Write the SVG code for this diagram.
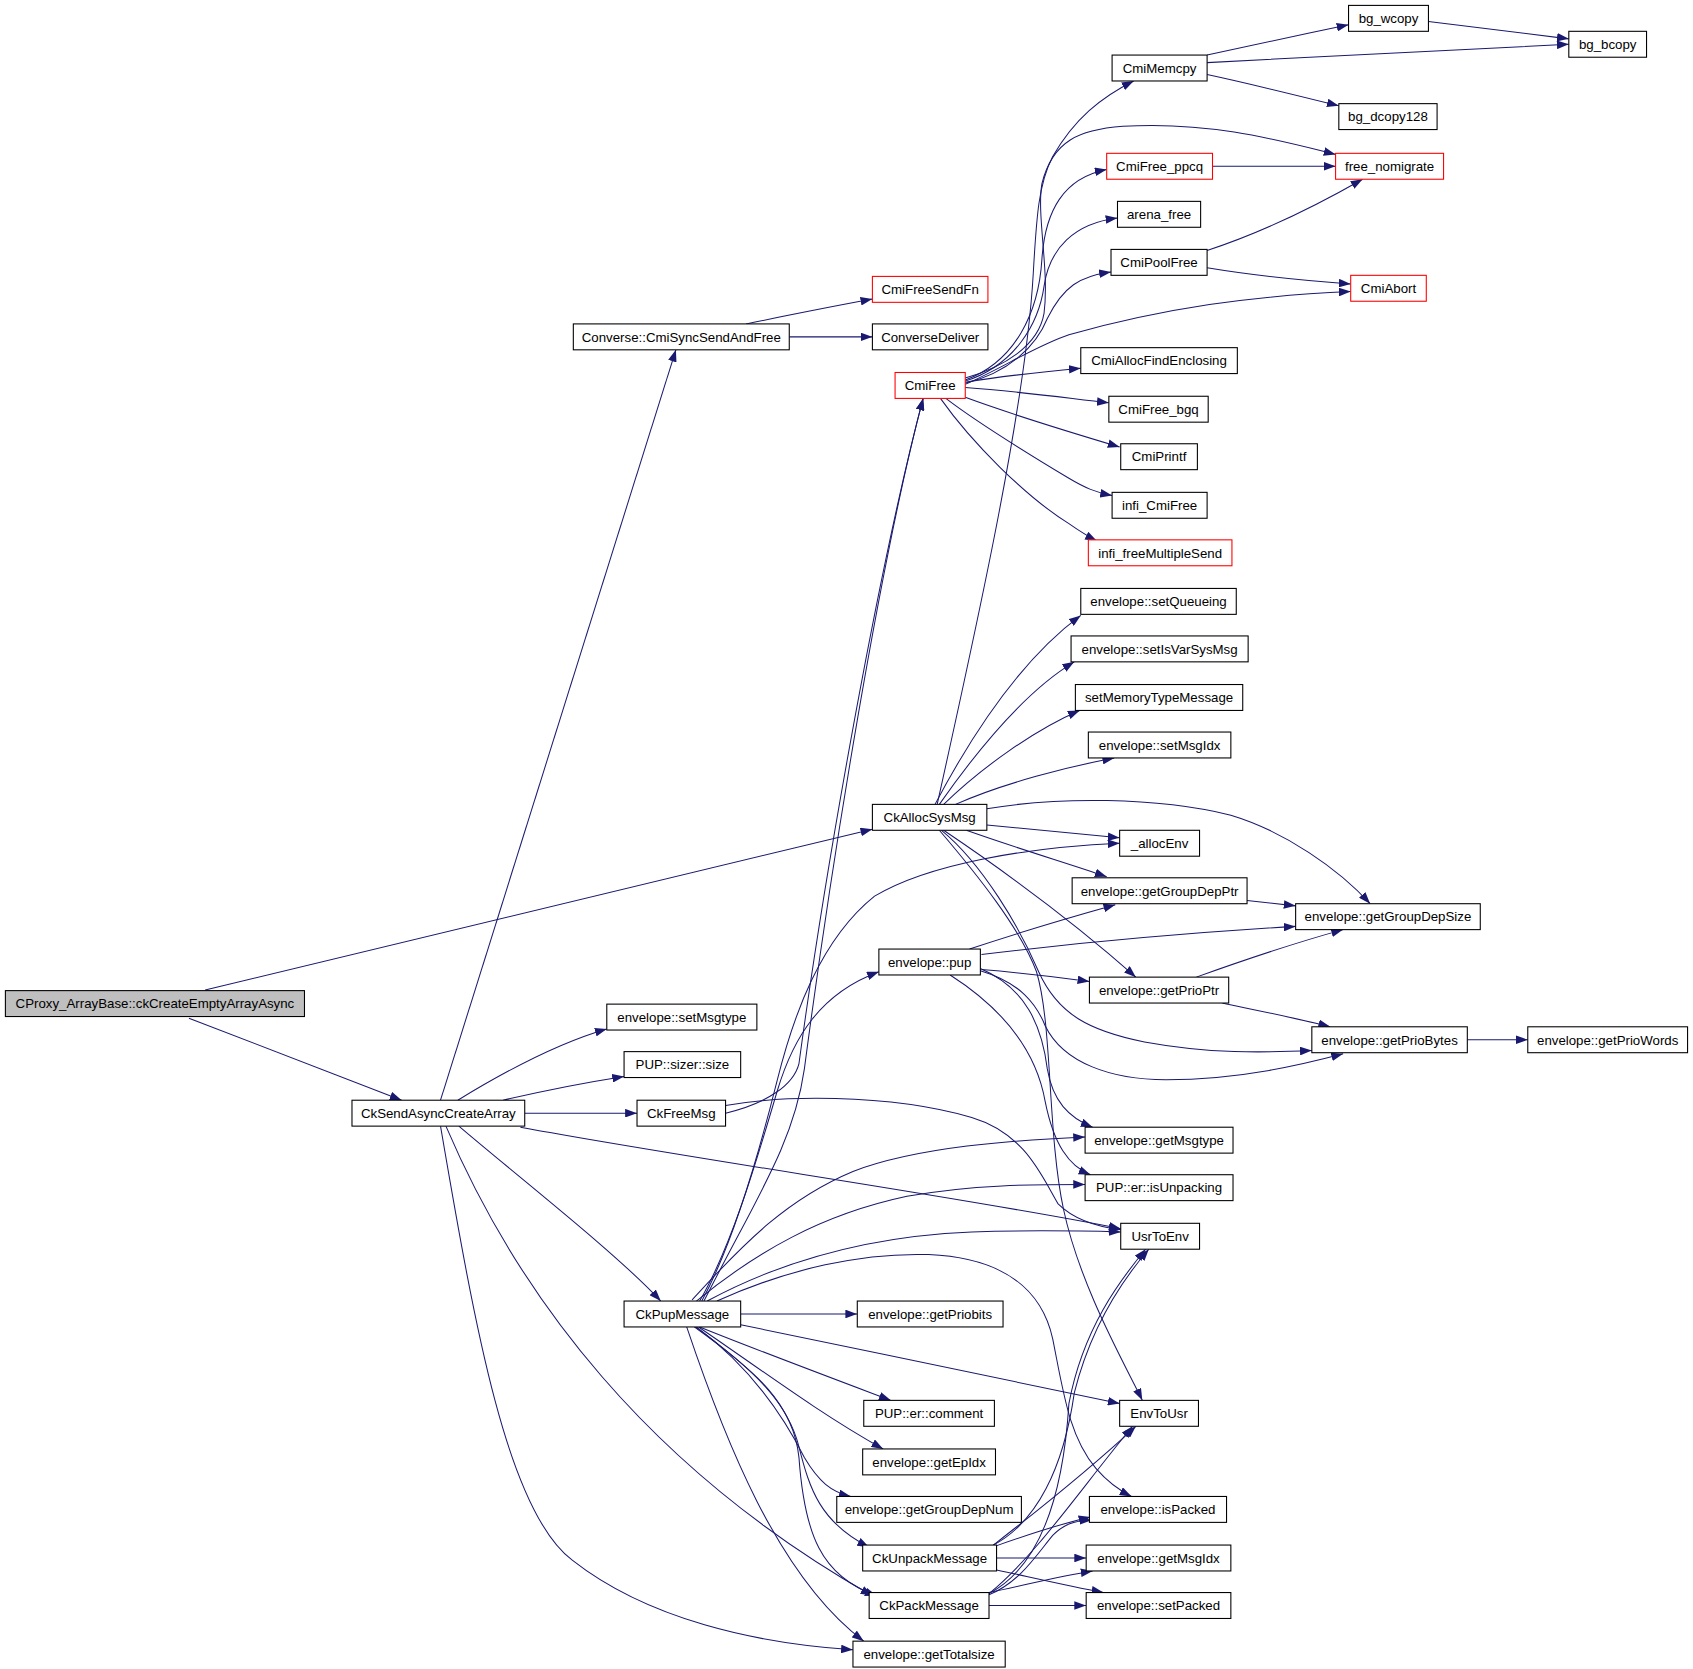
<svg xmlns="http://www.w3.org/2000/svg" width="1693" height="1669" viewBox="0 0 1693 1669">
<style>
.n rect{fill:#fff;stroke:#000;stroke-width:1}
.r rect{stroke:#ff0000}
.g rect{fill:#bfbfbf}
text{font-family:"Liberation Sans",Arial,Helvetica,sans-serif;font-size:12.3px;text-anchor:middle;fill:#000}
#edges path{fill:none;stroke:#191970;stroke-width:0.95;marker-end:url(#a)}
</style>
<defs>
<marker id="a" viewBox="0 0 11 8" refX="11" refY="4" markerWidth="11" markerHeight="8" orient="auto" markerUnits="userSpaceOnUse"><path d="M0,0 L11,4 L0,8 z" fill="#191970"/></marker>
</defs>
<rect width="1693" height="1669" fill="#fff"/>
<g transform="scale(1.0797)">
<g id="edges">
<path d="M175,943 L372,1019"/>
<path d="M190,917 L808,768"/>
<path d="M408,1019 L626,324"/>
<path d="M424,1019 C455,1000 510,968 562,953"/>
<path d="M466,1019 C500,1011 540,1003 578,997"/>
<path d="M486,1031 L590,1031"/>
<path d="M482,1044 C650,1075 900,1110 1038,1138"/>
<path d="M425,1043 C480,1090 570,1160 612,1205"/>
<path d="M413,1043 C480,1200 600,1360 808,1478"/>
<path d="M408,1043 C440,1230 470,1400 530,1445 C600,1500 700,1522 790,1528"/>
<path d="M691,300 C730,292 770,284 808,277"/>
<path d="M731,312 L808,312"/>
<path d="M894,350 C930,340 962,320 967,290 C972,250 960,200 965,170 C975,130 1000,120 1040,117 C1120,112 1185,130 1237,143"/>
<path d="M894,352 C940,335 962,290 965,240 C968,195 985,165 1025,157"/>
<path d="M894,353 C940,338 962,300 967,265 C972,230 995,207 1035,202"/>
<path d="M894,355 C935,345 960,320 970,295 C985,265 1000,256 1029,252"/>
<path d="M894,356 C930,340 960,320 990,310 C1080,285 1160,274 1251,270"/>
<path d="M894,354 C930,348 970,344 1001,341"/>
<path d="M894,359 C950,363 990,369 1027,373"/>
<path d="M894,368 C940,385 990,400 1037,414"/>
<path d="M876,369 C910,395 960,425 990,443 C1005,452 1015,456 1030,459"/>
<path d="M871,369 C900,410 950,460 990,485 C1000,492 1008,497 1016,501"/>
<path d="M1118,51 C1160,42 1205,32 1249,23"/>
<path d="M1118,58 C1230,52 1350,46 1453,41"/>
<path d="M1118,69 C1160,78 1200,88 1240,98"/>
<path d="M1323,20 C1370,26 1415,31 1453,36"/>
<path d="M1123,154 L1237,154"/>
<path d="M1118,232 C1170,215 1220,190 1262,166"/>
<path d="M1118,248 C1160,255 1210,260 1251,263"/>
<path d="M868,745 C900,600 950,380 957,253 C960,200 962,170 975,145 C995,110 1020,90 1050,75"/>
<path d="M866,745 C895,690 940,615 1001,570"/>
<path d="M870,745 C905,695 950,640 995,613"/>
<path d="M874,745 C910,710 960,675 1000,658"/>
<path d="M885,745 C930,725 990,710 1032,702"/>
<path d="M914,764 L1037,776"/>
<path d="M914,749 C980,738 1070,738 1140,755 C1190,770 1240,805 1269,837"/>
<path d="M895,769 C940,785 990,800 1025,812"/>
<path d="M874,769 C920,800 990,850 1052,905"/>
<path d="M872,769 C910,800 945,860 962,900 C980,940 1010,955 1060,965 C1120,976 1170,975 1215,973"/>
<path d="M870,769 C905,810 945,860 960,900 C975,950 970,1050 985,1120 C1000,1190 1040,1260 1058,1297"/>
<path d="M898,879 C940,865 990,850 1033,838"/>
<path d="M909,884 C1000,873 1100,864 1200,858"/>
<path d="M909,898 C945,901 980,905 1009,909"/>
<path d="M1155,834 L1200,839"/>
<path d="M1108,905 C1150,890 1200,873 1244,861"/>
<path d="M1132,929 C1170,937 1205,944 1232,951"/>
<path d="M1359,963 L1415,963"/>
<path d="M908,899 C945,910 960,930 968,950 C985,985 1030,1000 1080,1000 C1150,1000 1210,985 1244,976"/>
<path d="M908,897 C950,915 965,950 970,990 C975,1020 990,1035 1012,1044"/>
<path d="M880,903 C930,935 960,975 968,1020 C976,1060 990,1080 1010,1088"/>
<path d="M672,1024 C720,1015 820,1012 900,1035 C950,1050 965,1090 980,1115 C995,1130 1015,1136 1038,1139"/>
<path d="M672,1031 C710,1022 735,1005 740,985 C765,800 815,520 855,369"/>
<path d="M652,1205 C700,1110 735,1060 745,990 C770,800 815,520 855,369"/>
<path d="M650,1205 C680,1150 705,1060 720,1000 C735,940 760,870 810,830 C860,800 950,785 1037,781"/>
<path d="M648,1205 C680,1150 705,1060 720,1010 C735,960 760,920 814,900"/>
<path d="M641,1204 C690,1150 730,1110 790,1085 C850,1062 940,1056 1005,1053"/>
<path d="M645,1205 C700,1160 760,1125 840,1108 C900,1097 960,1097 1005,1097"/>
<path d="M655,1205 C720,1170 800,1145 900,1141 C960,1139 1000,1140 1038,1141"/>
<path d="M664,1205 C730,1175 800,1160 860,1162 C930,1165 965,1195 975,1240 C985,1290 990,1330 1015,1360 C1028,1375 1040,1382 1048,1386"/>
<path d="M686,1217 L794,1217"/>
<path d="M686,1227 C800,1250 950,1282 1037,1300"/>
<path d="M648,1229 C700,1250 780,1280 825,1297"/>
<path d="M647,1229 C700,1265 760,1310 818,1342"/>
<path d="M645,1229 C700,1270 730,1320 745,1350 C758,1372 770,1382 788,1386"/>
<path d="M644,1229 C700,1270 730,1300 740,1340 C750,1380 760,1410 805,1433"/>
<path d="M643,1229 C700,1270 735,1300 740,1350 C745,1420 760,1460 812,1478"/>
<path d="M636,1229 C670,1330 720,1460 800,1520"/>
<path d="M920,1431 C960,1410 985,1360 995,1290 C1010,1230 1040,1185 1064,1157"/>
<path d="M916,1476 C965,1450 985,1380 990,1300 C1003,1230 1038,1185 1061,1157"/>
<path d="M920,1431 C960,1400 1010,1360 1052,1321"/>
<path d="M916,1476 C960,1440 1000,1380 1049,1321"/>
<path d="M922,1432 C950,1422 980,1412 1010,1405"/>
<path d="M923,1443 L1006,1443"/>
<path d="M923,1454 C960,1462 990,1469 1022,1475"/>
<path d="M916,1477 C945,1465 960,1440 975,1422 C985,1412 995,1408 1011,1408"/>
<path d="M916,1475 C950,1468 980,1460 1012,1455"/>
<path d="M916,1487 L1006,1487"/>
</g>
<g id="root" class="n g"><rect x="5" y="917.5" width="277" height="24"/><text x="143.5" y="933.9">CProxy_ArrayBase::ckCreateEmptyArrayAsync</text></g>
<g id="CkSendAsyncCreateArray" class="n"><rect x="326" y="1019" width="160" height="24"/><text x="406" y="1035.4">CkSendAsyncCreateArray</text></g>
<g id="CmiSyncSendAndFree" class="n"><rect x="531" y="300" width="200" height="24"/><text x="631" y="316.4">Converse::CmiSyncSendAndFree</text></g>
<g id="CmiFreeSendFn" class="n r"><rect x="808" y="256" width="107" height="24"/><text x="861.5" y="272.4">CmiFreeSendFn</text></g>
<g id="ConverseDeliver" class="n"><rect x="808" y="300" width="107" height="24"/><text x="861.5" y="316.4">ConverseDeliver</text></g>
<g id="CmiFree" class="n r"><rect x="829" y="345" width="65" height="24"/><text x="861.5" y="361.4">CmiFree</text></g>
<g id="CmiMemcpy" class="n"><rect x="1030" y="51" width="88" height="24"/><text x="1074" y="67.4">CmiMemcpy</text></g>
<g id="bg_wcopy" class="n"><rect x="1249" y="5" width="74" height="24"/><text x="1286" y="21.4">bg_wcopy</text></g>
<g id="bg_bcopy" class="n"><rect x="1453" y="29" width="72" height="24"/><text x="1489" y="45.4">bg_bcopy</text></g>
<g id="bg_dcopy128" class="n"><rect x="1240" y="96" width="91" height="24"/><text x="1285.5" y="112.4">bg_dcopy128</text></g>
<g id="free_nomigrate" class="n r"><rect x="1237" y="142" width="100" height="24"/><text x="1287" y="158.4">free_nomigrate</text></g>
<g id="CmiFree_ppcq" class="n r"><rect x="1025" y="142" width="98" height="24"/><text x="1074" y="158.4">CmiFree_ppcq</text></g>
<g id="arena_free" class="n"><rect x="1035" y="186.5" width="77" height="24"/><text x="1073.5" y="202.9">arena_free</text></g>
<g id="CmiPoolFree" class="n"><rect x="1029" y="231" width="89" height="24"/><text x="1073.5" y="247.4">CmiPoolFree</text></g>
<g id="CmiAbort" class="n r"><rect x="1251" y="255" width="70" height="24"/><text x="1286" y="271.4">CmiAbort</text></g>
<g id="CmiAllocFindEnclosing" class="n"><rect x="1001" y="322" width="145" height="24"/><text x="1073.5" y="338.4">CmiAllocFindEnclosing</text></g>
<g id="CmiFree_bgq" class="n"><rect x="1027" y="367" width="92" height="24"/><text x="1073" y="383.4">CmiFree_bgq</text></g>
<g id="CmiPrintf" class="n"><rect x="1038" y="411" width="71" height="24"/><text x="1073.5" y="427.4">CmiPrintf</text></g>
<g id="infi_CmiFree" class="n"><rect x="1030" y="456" width="88" height="24"/><text x="1074" y="472.4">infi_CmiFree</text></g>
<g id="infi_freeMultipleSend" class="n r"><rect x="1008" y="500" width="133" height="24"/><text x="1074.5" y="516.4">infi_freeMultipleSend</text></g>
<g id="setQueueing" class="n"><rect x="1001" y="545" width="144" height="24"/><text x="1073" y="561.4">envelope::setQueueing</text></g>
<g id="setIsVarSysMsg" class="n"><rect x="992" y="589" width="164" height="24"/><text x="1074" y="605.4">envelope::setIsVarSysMsg</text></g>
<g id="setMemoryTypeMessage" class="n"><rect x="996" y="634" width="155" height="24"/><text x="1073.5" y="650.4">setMemoryTypeMessage</text></g>
<g id="setMsgIdx" class="n"><rect x="1008" y="678" width="132" height="24"/><text x="1074" y="694.4">envelope::setMsgIdx</text></g>
<g id="CkAllocSysMsg" class="n"><rect x="808" y="745" width="106" height="24"/><text x="861" y="761.4">CkAllocSysMsg</text></g>
<g id="allocEnv" class="n"><rect x="1037" y="769" width="74" height="24"/><text x="1074" y="785.4">_allocEnv</text></g>
<g id="getGroupDepPtr" class="n"><rect x="993" y="813" width="162" height="24"/><text x="1074" y="829.4">envelope::getGroupDepPtr</text></g>
<g id="getGroupDepSize" class="n"><rect x="1200" y="837" width="171" height="24"/><text x="1285.5" y="853.4">envelope::getGroupDepSize</text></g>
<g id="pup" class="n"><rect x="814" y="879" width="94" height="24"/><text x="861" y="895.4">envelope::pup</text></g>
<g id="getPrioPtr" class="n"><rect x="1009" y="905" width="129" height="24"/><text x="1073.5" y="921.4">envelope::getPrioPtr</text></g>
<g id="getPrioBytes" class="n"><rect x="1215" y="951" width="144" height="24"/><text x="1287" y="967.4">envelope::getPrioBytes</text></g>
<g id="getPrioWords" class="n"><rect x="1415" y="951" width="148" height="24"/><text x="1489" y="967.4">envelope::getPrioWords</text></g>
<g id="setMsgtype" class="n"><rect x="562" y="930" width="139" height="24"/><text x="631.5" y="946.4">envelope::setMsgtype</text></g>
<g id="sizer_size" class="n"><rect x="578" y="974" width="108" height="24"/><text x="632" y="990.4">PUP::sizer::size</text></g>
<g id="CkFreeMsg" class="n"><rect x="590" y="1019" width="82" height="24"/><text x="631" y="1035.4">CkFreeMsg</text></g>
<g id="getMsgtype" class="n"><rect x="1005" y="1044" width="137" height="24"/><text x="1073.5" y="1060.4">envelope::getMsgtype</text></g>
<g id="isUnpacking" class="n"><rect x="1005" y="1088" width="137" height="24"/><text x="1073.5" y="1104.4">PUP::er::isUnpacking</text></g>
<g id="UsrToEnv" class="n"><rect x="1038" y="1133" width="73" height="24"/><text x="1074.5" y="1149.4">UsrToEnv</text></g>
<g id="CkPupMessage" class="n"><rect x="578" y="1205" width="108" height="24"/><text x="632" y="1221.4">CkPupMessage</text></g>
<g id="getPriobits" class="n"><rect x="794" y="1205" width="135" height="24"/><text x="861.5" y="1221.4">envelope::getPriobits</text></g>
<g id="comment" class="n"><rect x="800" y="1297" width="121" height="24"/><text x="860.5" y="1313.4">PUP::er::comment</text></g>
<g id="EnvToUsr" class="n"><rect x="1037" y="1297" width="73" height="24"/><text x="1073.5" y="1313.4">EnvToUsr</text></g>
<g id="getEpIdx" class="n"><rect x="799" y="1342" width="123" height="24"/><text x="860.5" y="1358.4">envelope::getEpIdx</text></g>
<g id="getGroupDepNum" class="n"><rect x="775" y="1386" width="171" height="24"/><text x="860.5" y="1402.4">envelope::getGroupDepNum</text></g>
<g id="isPacked" class="n"><rect x="1009" y="1386" width="127" height="24"/><text x="1072.5" y="1402.4">envelope::isPacked</text></g>
<g id="CkUnpackMessage" class="n"><rect x="799" y="1431" width="124" height="24"/><text x="861" y="1447.4">CkUnpackMessage</text></g>
<g id="getMsgIdx" class="n"><rect x="1006" y="1431" width="134" height="24"/><text x="1073" y="1447.4">envelope::getMsgIdx</text></g>
<g id="CkPackMessage" class="n"><rect x="805" y="1475" width="111" height="24"/><text x="860.5" y="1491.4">CkPackMessage</text></g>
<g id="setPacked" class="n"><rect x="1006" y="1475" width="134" height="24"/><text x="1073" y="1491.4">envelope::setPacked</text></g>
<g id="getTotalsize" class="n"><rect x="790" y="1520" width="141" height="24"/><text x="860.5" y="1536.4">envelope::getTotalsize</text></g>
</g>
</svg>
